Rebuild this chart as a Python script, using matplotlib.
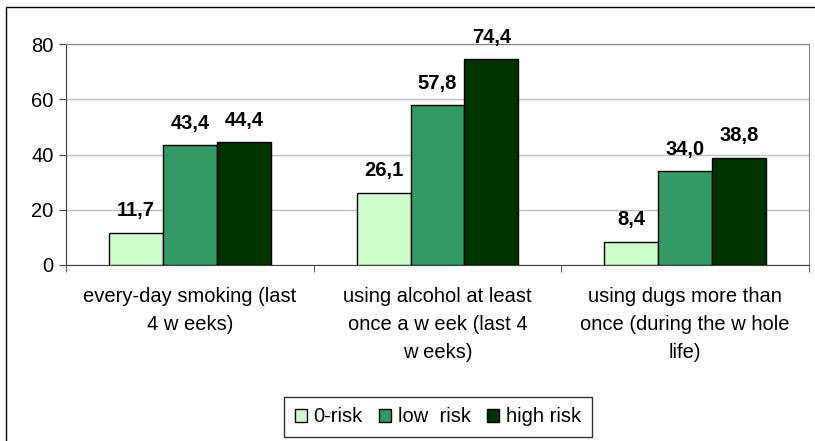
import numpy as np
import matplotlib.pyplot as plt
from matplotlib.patches import Rectangle

plt.rcParams['font.family'] = ['Liberation Sans', 'DejaVu Sans']

categories = ["every-day smoking (last\n4 w eeks)",
              "using alcohol at least\nonce a w eek (last 4\nw eeks)",
              "using dugs more than\nonce (during the w hole\nlife)"]
series_names = ["0-risk", "low  risk", "high risk"]
zero_risk = [11.7, 26.1, 8.4]
low_risk = [43.4, 57.8, 34.0]
high_risk = [44.4, 74.4, 38.8]
colors = ["#CCFFCC", "#339966", "#003300"]

FS = 14.5

fig = plt.figure(figsize=(8.15, 4.41), dpi=100)
# outer chart frame
fig.patches.append(Rectangle((6 / 815, -0.05), 1.0, 1 - 7 / 441 + 0.05,
                             transform=fig.transFigure, fill=False,
                             edgecolor="black", linewidth=1.0))
ax = fig.add_axes([66 / 815, 1 - 265 / 441, (809 - 66) / 815, (265 - 44) / 441])

x = np.arange(len(categories))
w = 0.218
for i, (vals, name, c) in enumerate(zip([zero_risk, low_risk, high_risk], series_names, colors)):
    pos = x + (i - 1) * w
    ax.bar(pos, vals, width=w, color=c, edgecolor="black", linewidth=1.0,
           label=name, zorder=3)
    for px, v in zip(pos, vals):
        ax.text(px, v + 4.5, f"{v:.1f}".replace(".", ","), ha="center", va="bottom",
                fontsize=FS, fontweight="bold")

ax.set_xlim(-0.5, 2.5)
ax.set_ylim(0, 80)
ax.set_yticks([0, 20, 40, 60, 80])
ax.yaxis.grid(True, color="#C0C0C0", linewidth=1.0, zorder=0)
ax.set_axisbelow(True)

ax.set_xticks(x)
ax.set_xticklabels(categories, fontsize=FS, linespacing=1.6)
ax.tick_params(axis="x", which="major", length=0, pad=16)
ax.set_xticks([-0.5, 0.5, 1.5, 2.5], minor=True)
ax.tick_params(axis="x", which="minor", length=5, color="#404040", direction="out")
ax.tick_params(axis="y", length=5, color="#404040", labelsize=FS, pad=4)

for side in ["top", "right"]:
    ax.spines[side].set_color("#808080")
for side in ["left", "bottom"]:
    ax.spines[side].set_color("#404040")

leg = fig.legend(loc="center", bbox_to_anchor=(438 / 815, 1 - 417 / 441),
                 ncol=3, fontsize=FS, frameon=True, fancybox=False,
                 handlelength=0.6, handleheight=0.6, handletextpad=0.35,
                 columnspacing=0.8, borderpad=0.5)
leg.get_frame().set_edgecolor("black")
leg.get_frame().set_linewidth(1.0)

fig.savefig("out.png", dpi=100)
